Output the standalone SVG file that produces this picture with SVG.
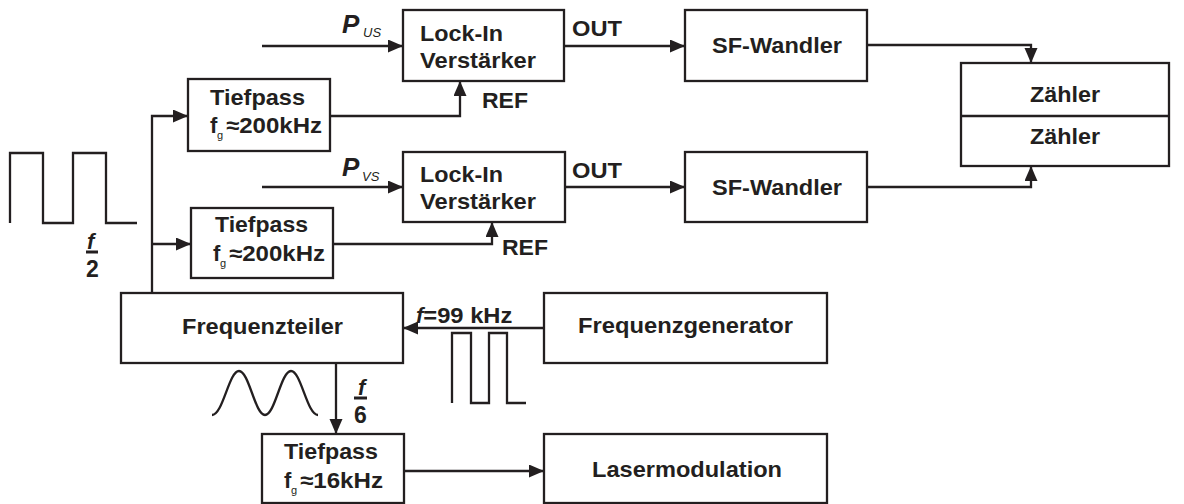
<svg xmlns="http://www.w3.org/2000/svg" width="1184" height="504" viewBox="0 0 1184 504">
<style>
.box{fill:#fff;stroke:#231f20;stroke-width:2.3}
.ln{fill:none;stroke:#231f20;stroke-width:2.3}
.wave{fill:none;stroke:#231f20;stroke-width:2.3}
text{font-family:"Liberation Sans",Arial,sans-serif;font-weight:bold;font-size:22px;fill:#231f20}
.it{font-style:italic}
.sub{font-size:11px;font-weight:normal}
</style>
<defs>
<marker id="ah" markerUnits="userSpaceOnUse" markerWidth="16" markerHeight="14" refX="15" refY="6.5" orient="auto">
<path d="M0,0 L15,6.5 L0,13 z" fill="#231f20"/>
</marker>
</defs>
<rect width="1184" height="504" fill="#fff"/>

<g id="connectors">
<path class="ln" d="M262,46 H403" marker-end="url(#ah)"/>
<path class="ln" d="M564,46 H685" marker-end="url(#ah)"/>
<path class="ln" d="M867,45 H1031 V63" marker-end="url(#ah)"/>
<path class="ln" d="M330,116 H460 V81" marker-end="url(#ah)"/>
<path class="ln" d="M152,293 V116 H188" marker-end="url(#ah)"/>
<path class="ln" d="M152,244 H191" marker-end="url(#ah)"/>
<path class="ln" d="M262,187 H403" marker-end="url(#ah)"/>
<path class="ln" d="M565,187 H685" marker-end="url(#ah)"/>
<path class="ln" d="M867,187 H1031 V166" marker-end="url(#ah)"/>
<path class="ln" d="M333,244 H492 V222" marker-end="url(#ah)"/>
<path class="ln" d="M544,328 H403" marker-end="url(#ah)"/>
<path class="ln" d="M336,363 V434" marker-end="url(#ah)"/>
<path class="ln" d="M404,471 H544" marker-end="url(#ah)"/>
</g>

<g id="labels">
<text class="it" x="342" y="33" style="font-size:26px">P</text>
<text class="it" x="363" y="37" style="font-size:13px;font-weight:normal">US</text>
<text class="it" x="342" y="176" style="font-size:26px">P</text>
<text class="it" x="362" y="181" style="font-size:13px;font-weight:normal">VS</text>
<text x="572" y="36" textLength="50" lengthAdjust="spacingAndGlyphs">OUT</text>
<text x="572" y="178" textLength="50" lengthAdjust="spacingAndGlyphs">OUT</text>
<text x="482" y="108" textLength="46" lengthAdjust="spacingAndGlyphs">REF</text>
<text x="502" y="255" textLength="46" lengthAdjust="spacingAndGlyphs">REF</text>
<text x="416" y="323"><tspan class="it">f</tspan><tspan textLength="89" lengthAdjust="spacingAndGlyphs">=99 kHz</tspan></text>
<text class="it" x="87" y="249">f</text>
<path class="ln" d="M86,252 H98" style="stroke-width:3"/>
<text x="86" y="277" style="font-size:23px">2</text>
<text class="it" x="358" y="395">f</text>
<path class="ln" d="M354,398 H367" style="stroke-width:3"/>
<text x="354" y="423" style="font-size:23px">6</text>
</g>

<g id="waves">
<path class="wave" d="M10,223 V153 H43 V223 H73 V153 H106 V223 H137"/>
<path class="wave" d="M452,403 V333 H471 V403 H489 V333 H507 V403 H526"/>
<path class="wave" d="M212,415 C223,415 229,371 239,371 C249,371 255,415 265,415 C275,415 281,371 291,371 C301,371 307,415 318,415"/>
</g>

<g id="lockin1">
<rect class="box" x="403" y="10" width="161" height="71"/>
<text x="420" y="41" textLength="83" lengthAdjust="spacingAndGlyphs">Lock-In</text>
<text x="420" y="68" textLength="116" lengthAdjust="spacingAndGlyphs">Verstärker</text>
</g>
<g id="lockin2">
<rect class="box" x="403" y="152" width="162" height="70"/>
<text x="420" y="182" textLength="83" lengthAdjust="spacingAndGlyphs">Lock-In</text>
<text x="420" y="209" textLength="116" lengthAdjust="spacingAndGlyphs">Verstärker</text>
</g>
<g id="sf1">
<rect class="box" x="685" y="10" width="182" height="71"/>
<text x="712" y="53" textLength="130" lengthAdjust="spacingAndGlyphs">SF-Wandler</text>
</g>
<g id="sf2">
<rect class="box" x="685" y="152" width="182" height="70"/>
<text x="712" y="195" textLength="130" lengthAdjust="spacingAndGlyphs">SF-Wandler</text>
</g>
<g id="zaehler">
<rect class="box" x="961" y="63" width="208" height="103"/>
<path class="ln" d="M961,116 H1169"/>
<text x="1030" y="102" textLength="70" lengthAdjust="spacingAndGlyphs">Zähler</text>
<text x="1030" y="144" textLength="70" lengthAdjust="spacingAndGlyphs">Zähler</text>
</g>
<g id="tiefpass1">
<rect class="box" x="188" y="79" width="142" height="72"/>
<text x="210" y="105" textLength="95" lengthAdjust="spacingAndGlyphs">Tiefpass</text>
<text x="210" y="133">f</text>
<text class="sub" x="217" y="139">g</text>
<text x="226" y="133" textLength="96" lengthAdjust="spacingAndGlyphs">≈200kHz</text>
</g>
<g id="tiefpass2">
<rect class="box" x="191" y="208" width="142" height="70"/>
<text x="215" y="232" textLength="93" lengthAdjust="spacingAndGlyphs">Tiefpass</text>
<text x="213" y="261">f</text>
<text class="sub" x="220" y="267">g</text>
<text x="229" y="261" textLength="96" lengthAdjust="spacingAndGlyphs">≈200kHz</text>
</g>
<g id="frequenzteiler">
<rect class="box" x="121" y="293" width="282" height="70"/>
<text x="182" y="334" textLength="161" lengthAdjust="spacingAndGlyphs">Frequenzteiler</text>
</g>
<g id="frequenzgenerator">
<rect class="box" x="544" y="293" width="283" height="70"/>
<text x="578" y="333" textLength="215" lengthAdjust="spacingAndGlyphs">Frequenzgenerator</text>
</g>
<g id="tiefpass3">
<rect class="box" x="262" y="434" width="142" height="69"/>
<text x="284" y="459" textLength="94" lengthAdjust="spacingAndGlyphs">Tiefpass</text>
<text x="284" y="488">f</text>
<text class="sub" x="291" y="494">g</text>
<text x="300" y="488" textLength="83" lengthAdjust="spacingAndGlyphs">≈16kHz</text>
</g>
<g id="lasermodulation">
<rect class="box" x="544" y="434" width="283" height="69"/>
<text x="592" y="477" textLength="190" lengthAdjust="spacingAndGlyphs">Lasermodulation</text>
</g>
</svg>
